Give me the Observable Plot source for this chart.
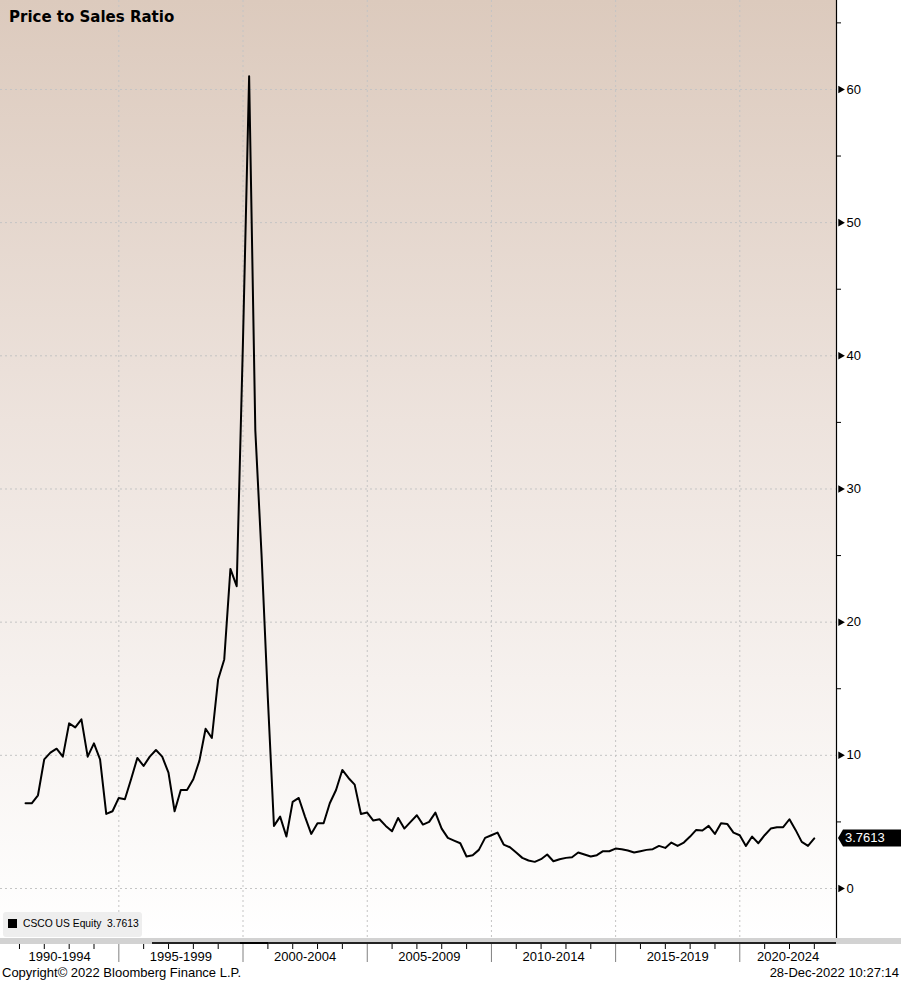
<!DOCTYPE html>
<html>
<head>
<meta charset="utf-8">
<script src="https://cdn.jsdelivr.net/npm/d3@7"></script>
<script src="https://cdn.jsdelivr.net/npm/@observablehq/plot@0.6"></script>
<style>
  html, body { margin: 0; padding: 0; background: #ffffff; }
  #wrap { position: relative; width: 901px; height: 981px; overflow: hidden; font-family: "Liberation Sans", Arial, sans-serif; }
  #bg { position: absolute; left: 0; top: 0; width: 836px; height: 938px;
        background: linear-gradient(to bottom, #dccabd 0%, #ede3dd 45%, #ffffff 100%); }
  #chart { position: absolute; left: 0; top: 0; }
  #title { position: absolute; left: 9px; top: 8px; font-family: "DejaVu Sans", sans-serif; font-weight: bold; font-size: 15px; color: #000; }
  #legend { position: absolute; left: 3px; top: 912px; width: 139px; height: 25px; background: #eeeeee; border-radius: 3px; }
  #legend .sw { position: absolute; left: 5px; top: 7px; width: 9px; height: 9px; background: #000; }
  #legend .tx { position: absolute; left: 20px; top: 6px; font-size: 10.3px; color: #000; white-space: pre; }
  #bar { position: absolute; left: 0; top: 938px; width: 901px; height: 6px; background: #d2d2d2; }
  #barline { position: absolute; left: 152px; top: 942px; width: 684px; height: 2px; background: #222; }
  #barmark { position: absolute; left: 240px; top: 942px; width: 28px; height: 2px; background: #000; }
  #footer { position: absolute; left: 0; top: 963px; width: 901px; height: 18px; font-size: 13px; color: #000; }
  #footer .l { position: absolute; left: 2px; top: 2px; }
  #footer .r { position: absolute; right: 2px; top: 2px; }
</style>
</head>
<body>
<div id="wrap">
  <div id="bg"></div>
  <div id="chart"></div>
  <div id="title">Price to Sales Ratio</div>
  <div id="legend"><div class="sw"></div><div class="tx">CSCO US Equity  3.7613</div></div>
  <div id="bar"></div>
  <div id="barline"></div>
  <div id="barmark"></div>
  <div id="footer"><span class="l">Copyright© 2022 Bloomberg Finance L.P.</span><span class="r">28-Dec-2022 10:27:14</span></div>
</div>
<script>
// ---- Data (quarterly, first quarter ending March 1991) ----
const firstQuarterEnd = { year: 1991, month: 3 }; // end of March 1991
const psValues = [
  6.4, 6.4, 7.0, 9.7, 10.2, 10.5, 9.9, 12.4, 12.1, 12.7,
  9.9, 10.9, 9.7, 5.6, 5.8, 6.8, 6.7, 8.2, 9.8, 9.2,
  9.9, 10.4, 9.9, 8.7, 5.8, 7.4, 7.4, 8.2, 9.6, 12.0,
  11.3, 15.7, 17.2, 24.0, 22.7, 41.0, 61.0, 34.4, 25.0, 14.3,
  4.7, 5.4, 3.9, 6.5, 6.8, 5.4, 4.1, 4.9, 4.9, 6.4,
  7.4, 8.9, 8.3, 7.8, 5.6, 5.7, 5.1, 5.2, 4.7, 4.3,
  5.3, 4.5, 5.0, 5.5, 4.8, 5.0, 5.7, 4.5, 3.8, 3.6,
  3.4, 2.4, 2.5, 2.9, 3.8, 4.0, 4.2, 3.3, 3.1, 2.7,
  2.3, 2.1, 2.0, 2.2, 2.55, 2.05, 2.2, 2.3, 2.35, 2.7,
  2.55, 2.4, 2.5, 2.8, 2.8, 3.0, 2.95, 2.85, 2.7, 2.8,
  2.9, 2.95, 3.2, 3.05, 3.45, 3.2, 3.45, 3.9, 4.4, 4.35,
  4.7, 4.1, 4.9, 4.85, 4.2, 4.0, 3.2, 3.9, 3.4, 4.0,
  4.5, 4.6, 4.6, 5.2, 4.4, 3.5, 3.2, 3.7613
];
const lastValue = 3.7613;
const seriesName = "CSCO US Equity";

const periodLabels = ["1990-1994", "1995-1999", "2000-2004", "2005-2009", "2010-2014", "2015-2019", "2020-2024"];
const periodStartYears = [1990, 1995, 2000, 2005, 2010, 2015, 2020];
const yTickValues = [0, 10, 20, 30, 40, 50, 60];
const yMinorTickValues = [5, 15, 25, 35, 45, 55, 65];
const xDomain = [new Date(Date.UTC(1990, 2, 28)), new Date(Date.UTC(2023, 10, 23))];
const yDomain = [-4.205, 66.68];

// ---- Build table ----
const data = psValues.map((v, i) => ({
  date: new Date(Date.UTC(firstQuarterEnd.year, firstQuarterEnd.month + 3 * i, 0)),
  value: v
}));

const yearTicks = d3.range(1991, 2024).filter(y => y % 5 !== 0).map(y => new Date(Date.UTC(y, 0, 1)));
const boundaryTicks = periodStartYears.slice(1).map(y => new Date(Date.UTC(y, 0, 1)));
const labelCenters = periodStartYears.map(y => {
  const a = Math.max(+new Date(Date.UTC(y, 0, 1)), +xDomain[0]);
  const b = Math.min(+new Date(Date.UTC(y + 5, 0, 1)), +xDomain[1]);
  return new Date((a + b) / 2);
});
const blank = () => "";

const chart = Plot.plot({
  width: 901,
  height: 962,
  marginLeft: 0,
  marginRight: 65,
  marginTop: 0,
  marginBottom: 18,
  style: { background: "transparent", fontFamily: "Liberation Sans, Arial, sans-serif", fontSize: "13px", color: "#000", overflow: "visible" },
  x: { type: "utc", domain: xDomain },
  y: { domain: yDomain },
  marks: [
    Plot.gridY(yTickValues, { stroke: "#c4c4c4", strokeOpacity: 1, strokeDasharray: "2,3" }),
    Plot.gridX(boundaryTicks, { stroke: "#c4c4c4", strokeOpacity: 1, strokeDasharray: "2,3" }),
    Plot.line(data, { x: "date", y: "value", stroke: "#000", strokeWidth: 2 }),
    // right axis line
    Plot.ruleX([xDomain[1]], { stroke: "#000", strokeWidth: 1.2 }),
    // y axis labels
    Plot.axisY(yTickValues, { anchor: "right", tickSize: 0, tickPadding: 10, fontSize: 13, label: null }),
    Plot.axisY(yMinorTickValues.filter(v => v < yDomain[1]), { anchor: "right", tickSize: 4, tickFormat: blank, label: null }),
    Plot.dot(yTickValues, { x: () => xDomain[1], y: d => d, symbol: "triangle", rotate: 90, r: 2.8, fill: "#000", stroke: null, dx: 4 }),
    // x axis
    Plot.axisX(yearTicks, { anchor: "bottom", tickSize: 5, tickFormat: blank, label: null, stroke: "#000" }),
    Plot.axisX(boundaryTicks, { anchor: "bottom", tickSize: 18, tickFormat: blank, label: null, stroke: "#808080" }),
    Plot.axisX(labelCenters, { anchor: "bottom", tickSize: 0, tickPadding: 7, tickFormat: (d, i) => periodLabels[i], fontSize: 13, label: null })
  ]
});

document.getElementById("chart").appendChild(chart);

// last value tag on the right axis
const svg = d3.select(chart);
const yv = chart.scale("y").apply(lastValue);
const xr = chart.scale("x").apply(xDomain[1]);
const h = 8.5;
svg.append("path")
  .attr("d", `M${xr + 2},${yv} L${xr + 7},${yv - h} L901,${yv - h} L901,${yv + h} L${xr + 7},${yv + h} Z`)
  .attr("fill", "#000");
svg.append("text")
  .attr("x", xr + 9)
  .attr("y", yv)
  .attr("dy", "0.35em")
  .attr("text-anchor", "start")
  .attr("fill", "#fff")
  .attr("font-size", 13)
  .attr("font-family", "Liberation Sans, Arial, sans-serif")
  .text(lastValue.toFixed(4));
</script>
</body>
</html>
